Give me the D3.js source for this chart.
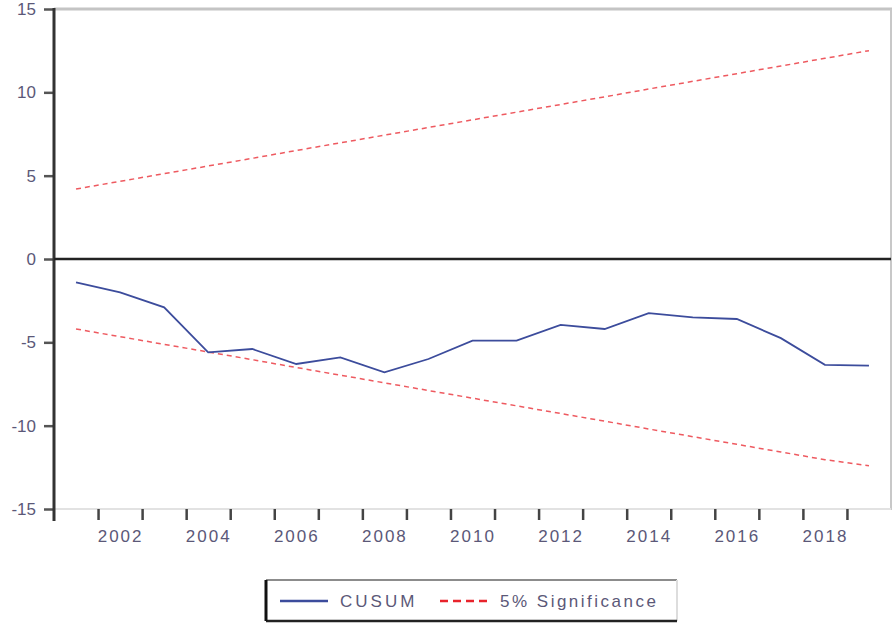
<!DOCTYPE html>
<html>
<head>
  <meta charset="UTF-8">
  <style>
      body{ margin:0; background:#fff; }
      svg text{ font-family: Arial, "Liberation Sans", sans-serif; fill:#5b5878; }
  </style>
</head>
<body>
<svg></svg>
<script src="https://d3js.org/d3.v7.min.js"></script>
<script>

let width = 896, height = 623;

// data
let years = [2001,2002,2003,2004,2005,2006,2007,2008,2009,2010,2011,2012,2013,2014,2015,2016,2017,2018,2019];
let cusum = [-1.4,-2.0,-2.9,-5.6,-5.4,-6.3,-5.9,-6.8,-6.0,-4.9,-4.9,-3.95,-4.2,-3.25,-3.5,-3.6,-4.75,-6.35,-6.4];
let upper = [4.2,4.66,5.12,5.58,6.04,6.51,6.97,7.43,7.89,8.35,8.81,9.27,9.73,10.2,10.66,11.12,11.58,12.04,12.5];
let lower = [-4.2,-4.66,-5.12,-5.58,-6.04,-6.51,-6.97,-7.43,-7.89,-8.35,-8.81,-9.27,-9.73,-10.2,-10.66,-11.12,-11.58,-12.04,-12.4];
let yTicks = [-15,-10,-5,0,5,10,15];
let yearTicks = d3.range(2002, 2020);
let yearLabels = [2002,2004,2006,2008,2010,2012,2014,2016,2018];

let svg = d3.select("svg")
    .attr("width", width)
    .attr("height", height);

let x = d3.scaleLinear().domain([2001, 2020]).range([54, 891]);
let y = d3.scaleLinear().domain([-15, 15]).range([509, 9]);

// frame
svg.append("line").attr("x1", 54).attr("x2", 892).attr("y1", y(15)).attr("y2", y(15))
    .attr("stroke", "#c4c4c4").attr("stroke-width", 3);
svg.append("line").attr("x1", 891).attr("x2", 891).attr("y1", 9).attr("y2", 510)
    .attr("stroke", "#c8c8c8").attr("stroke-width", 2);
svg.append("line").attr("x1", 54).attr("x2", 891).attr("y1", y(-15)).attr("y2", y(-15))
    .attr("stroke", "#e2e2e2").attr("stroke-width", 2);

// y axis
let yAxis = svg.append("g")
    .attr("transform", "translate(54,0)")
    .call(d3.axisLeft(y).tickValues(yTicks).tickSize(10).tickPadding(8).tickFormat(d => String(d)));
yAxis.select(".domain").remove();
yAxis.selectAll(".tick line").attr("stroke", "#555").attr("stroke-width", 2.5);
yAxis.selectAll("text").style("font-size", "17px").attr("fill", "#5b5878");

// x ticks on year boundaries
let xTickAxis = svg.append("g")
    .attr("transform", "translate(0," + y(-15) + ")")
    .call(d3.axisBottom(x).tickValues(yearTicks).tickSize(11).tickFormat(""));
xTickAxis.select(".domain").remove();
xTickAxis.selectAll(".tick line").attr("stroke", "#444").attr("stroke-width", 2.5);

// x labels centred in the year
let xLabelAxis = svg.append("g")
    .attr("transform", "translate(0," + y(-15) + ")")
    .call(d3.axisBottom(x).tickValues(yearLabels.map(d => d + 0.5)).tickSize(0).tickPadding(21)
        .tickFormat(d => String(Math.floor(d))));
xLabelAxis.select(".domain").remove();
xLabelAxis.selectAll("text").style("font-size", "17px").style("letter-spacing", "2px").attr("fill", "#5b5878");

// left axis and zero line
svg.append("line").attr("x1", 54).attr("x2", 54).attr("y1", 8).attr("y2", 521)
    .attr("stroke", "#333").attr("stroke-width", 3);
svg.append("line").attr("x1", 54).attr("x2", 891).attr("y1", y(0)).attr("y2", y(0))
    .attr("stroke", "#222").attr("stroke-width", 2.5);

let line = d3.line()
    .x((d, i) => x(years[i] + 0.5))
    .y(d => y(d));

svg.append("path").datum(upper).attr("d", line)
    .attr("fill", "none").attr("stroke", "#e8232b").attr("stroke-width", 1.5)
    .attr("stroke-dasharray", "5,4").attr("opacity", 0.75);
svg.append("path").datum(lower).attr("d", line)
    .attr("fill", "none").attr("stroke", "#e8232b").attr("stroke-width", 1.5)
    .attr("stroke-dasharray", "5,4").attr("opacity", 0.75);
svg.append("path").datum(cusum).attr("d", line)
    .attr("fill", "none").attr("stroke", "#3c4c9c").attr("stroke-width", 1.8);

// legend
let lg = svg.append("g").attr("transform", "translate(266,580)");
lg.append("rect").attr("width", 411).attr("height", 41).attr("fill", "#fff");
lg.append("line").attr("x1", 0).attr("x2", 411).attr("y1", 0).attr("y2", 0).attr("stroke", "#8c8c8c").attr("stroke-width", 2);
lg.append("line").attr("x1", 411).attr("x2", 411).attr("y1", 0).attr("y2", 41).attr("stroke", "#ddd").attr("stroke-width", 2);
lg.append("line").attr("x1", 0).attr("x2", 411).attr("y1", 41).attr("y2", 41).attr("stroke", "#222").attr("stroke-width", 2.5);
lg.append("line").attr("x1", 0).attr("x2", 0).attr("y1", 0).attr("y2", 41).attr("stroke", "#111").attr("stroke-width", 3);

lg.append("line").attr("x1", 14).attr("x2", 62).attr("y1", 21).attr("y2", 21)
    .attr("stroke", "#3c4c9c").attr("stroke-width", 2.5);
lg.append("text").attr("x", 74).attr("y", 27).text("CUSUM")
    .style("font-size", "17px").style("letter-spacing", "3px");
lg.append("line").attr("x1", 174).attr("x2", 224).attr("y1", 21).attr("y2", 21)
    .attr("stroke", "#e8232b").attr("stroke-width", 2.5).attr("stroke-dasharray", "8,5");
lg.append("text").attr("x", 234).attr("y", 27).text("5% Significance")
    .style("font-size", "17px").style("letter-spacing", "2.5px");

</script>
</body>
</html>
